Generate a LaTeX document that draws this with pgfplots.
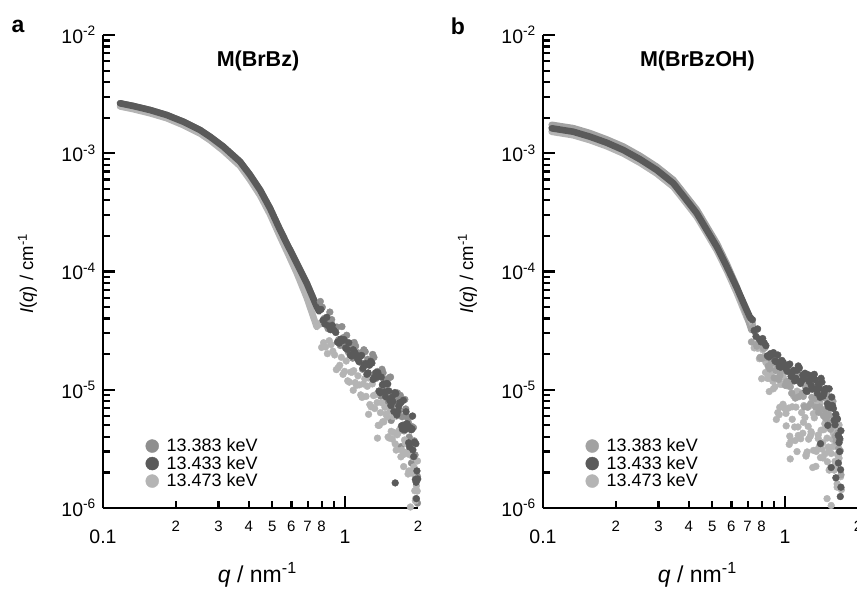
\documentclass[border=0pt]{standalone}
\usepackage{fontspec}
\setmainfont{Liberation Sans}
\usepackage{pgfplots}
\pgfplotsset{compat=1.18}

\definecolor{cdark}{HTML}{5A5A5A}
\definecolor{cmedA}{HTML}{8E8E8E}
\definecolor{cmedB}{HTML}{A2A2A2}
\definecolor{clight}{HTML}{B4B4B4}

\tikzset{
  sline/.style={line width=6.6bp, line cap=round, line join=round, color=#1},
  sdots/.style={mark=*, mark size=3.4bp, color=#1},
  legdot/.style={only marks, mark=*, mark size=6.5bp, color=#1},
}

\begin{document}
\begin{tikzpicture}
\useasboundingbox (0bp,0bp) rectangle (857bp,589bp);

% ---------------- panel a ----------------
\begin{loglogaxis}[
    at={(103bp,81bp)}, anchor=south west,
    scale only axis, width=315bp, height=473bp,
    xmin=0.1, xmax=2, ymin=1e-6, ymax=1e-2,
    axis x line*=bottom, axis y line*=left,
    axis line style={line width=2.6bp, -},
    tick align=inside,
    major tick length=12bp, minor tick length=7bp,
    tick style={line width=2.2bp, color=black},
    xtick={0.1,1}, xticklabels={0.1,1},
    minor xtick={0.2,0.3,0.4,0.5,0.6,0.7,0.8,0.9},
    extra x ticks={0.2,0.3,0.4,0.5,0.6,0.7,0.8,2},
    extra x tick labels={2,3,4,5,6,7,8,2},
    extra x tick style={tick style={draw=none},
      xticklabel style={font=\fontsize{15bp}{17bp}\selectfont, yshift=9bp}},
    xticklabel style={font=\fontsize{19.5bp}{22bp}\selectfont, inner sep=0pt, anchor=north, yshift=-22bp},
    ytick={1e-6,1e-5,1e-4,1e-3,1e-2},
    yticklabels={10\textsuperscript{-6},10\textsuperscript{-5},10\textsuperscript{-4},10\textsuperscript{-3},10\textsuperscript{-2}},
    minor ytick={2e-6,3e-6,4e-6,5e-6,6e-6,7e-6,8e-6,9e-6,
                 2e-5,3e-5,4e-5,5e-5,6e-5,7e-5,8e-5,9e-5,
                 2e-4,3e-4,4e-4,5e-4,6e-4,7e-4,8e-4,9e-4,
                 2e-3,3e-3,4e-3,5e-3,6e-3,7e-3,8e-3,9e-3},
    yticklabel style={font=\fontsize{19.5bp}{22bp}\selectfont, inner sep=0pt, anchor=east, xshift=-7bp},
    xlabel={\textit{q} / nm\textsuperscript{-1}},
    xlabel style={font=\fontsize{23bp}{26bp}\selectfont, at={(axis description cs:0.49,-0.158)}, anchor=base},
    ylabel={\textit{I}(\textit{q}) / cm\textsuperscript{-1}},
    ylabel style={font=\fontsize{18.5bp}{21bp}\selectfont, at={(axis description cs:-0.24,0.495)}, anchor=center},
    legend style={at={(axis description cs:0.135,0.151)}, anchor=north west,
      draw=none, fill=none, inner sep=0pt, row sep=-1bp, column sep=6bp,
      font=\fontsize{18bp}{20bp}\selectfont},
    legend cell align=left,
  ]
  % 13.383 keV
  \addplot[forget plot, no marks, sline=cmedA] coordinates {
    (0.1176,2.645e-3)(0.1334,2.509e-3)(0.1564,2.321e-3)(0.1833,2.106e-3)(0.2147,1.848e-3)
    (0.2517,1.573e-3)(0.2768,1.380e-3)(0.3142,1.136e-3)(0.3683,8.48e-4)(0.4050,6.55e-4)
    (0.4455,4.89e-4)(0.4898,3.42e-4)(0.5387,2.244e-4)(0.5832,1.62e-4)(0.6317,1.173e-4)
    (0.6946,7.95e-5)(0.7638,5.04e-5)(0.79,4.8e-5)};
  \addplot[forget plot, only marks, sdots=cmedA] coordinates {
    (0.79,5.58e-5)(0.82,4.01e-5)(0.85,3.29e-5)(0.88,3.92e-5)(0.91,3.28e-5)(0.94,2.65e-5)
    (0.97,3.42e-5)(1.00,2.52e-5)(1.03,2.09e-5)(1.06,2.46e-5)(1.09,2.51e-5)(1.12,1.91e-5)
    (1.15,1.92e-5)(1.18,1.49e-5)(1.21,2.10e-5)(1.24,1.81e-5)(1.27,1.28e-5)(1.30,1.99e-5)
    (1.33,1.25e-5)(1.36,1.43e-5)(1.39,9.42e-6)(1.42,1.49e-5)(1.45,1.03e-5)(1.48,1.22e-5)
    (1.51,7.80e-6)(1.54,1.28e-5)(1.57,7.42e-6)(1.60,8.57e-6)(1.63,6.01e-6)(1.66,8.36e-6)
    (1.69,8.97e-6)(1.72,5.91e-6)(1.75,4.49e-6)(1.78,6.88e-6)(1.81,5.79e-6)(1.84,3.98e-6)
    (1.87,5.90e-6)(1.90,3.55e-6)(1.93,3.70e-6)(1.96,1.88e-6)(1.99,1.85e-6)
    (0.805,4.99e-5)(0.835,3.74e-5)(0.865,4.54e-5)(0.895,3.23e-5)(0.925,3.39e-5)(0.955,2.37e-5)
    (0.985,2.76e-5)(1.015,2.89e-5)(1.045,2.16e-5)(1.075,1.85e-5)(1.105,2.34e-5)(1.135,2.05e-5)
    (1.165,1.69e-5)(1.195,2.18e-5)(1.225,1.63e-5)(1.255,1.27e-5)(1.285,1.72e-5)(1.315,1.88e-5)
    (1.345,1.25e-5)(1.375,1.31e-5)(1.405,8.83e-6)(1.435,1.39e-5)(1.465,1.18e-5)(1.495,8.32e-6)
    (1.525,1.27e-5)(1.555,7.91e-6)(1.585,9.07e-6)(1.615,6.06e-6)(1.645,9.40e-6)(1.675,6.66e-6)
    (1.705,7.87e-6)(1.735,5.03e-6)(1.765,8.28e-6)(1.795,4.68e-6)(1.825,5.27e-6)(1.855,3.63e-6)
    (1.885,4.89e-6)(1.915,4.79e-6)(1.945,2.81e-6)(1.975,1.74e-6)
    (1.55,5.5e-6)(1.88,2.4e-6)(1.99,1.1e-6)(1.70,3.3e-6)};
  % 13.473 keV
  \addplot[forget plot, no marks, sline=clight] coordinates {
    (0.1176,2.49e-3)(0.1334,2.36e-3)(0.1564,2.18e-3)(0.1833,1.98e-3)(0.2147,1.73e-3)
    (0.2517,1.47e-3)(0.2768,1.29e-3)(0.3142,1.05e-3)(0.3683,7.8e-4)(0.4050,5.95e-4)
    (0.4455,4.4e-4)(0.4898,3.04e-4)(0.5387,1.97e-4)(0.5832,1.39e-4)(0.6317,9.7e-5)
    (0.6946,6.0e-5)(0.7638,3.4e-5)};
  \addplot[forget plot, only marks, sdots=clight] coordinates {
    (0.77,3.62e-5)(0.80,2.28e-5)(0.83,2.30e-5)(0.86,2.60e-5)(0.89,2.12e-5)(0.92,1.48e-5)
    (0.95,1.61e-5)(0.98,1.35e-5)(1.01,1.75e-5)(1.04,1.16e-5)(1.07,1.41e-5)(1.10,1.15e-5)
    (1.13,1.31e-5)(1.16,9.05e-6)(1.19,1.12e-5)(1.22,8.79e-6)(1.25,1.26e-5)(1.28,7.17e-6)
    (1.31,8.93e-6)(1.34,9.10e-6)(1.37,5.00e-6)(1.40,6.40e-6)(1.43,5.36e-6)(1.46,7.12e-6)
    (1.49,5.92e-6)(1.52,3.91e-6)(1.55,4.45e-6)(1.58,5.93e-6)(1.61,3.49e-6)(1.64,4.16e-6)
    (1.67,4.49e-6)(1.70,2.71e-6)(1.73,2.81e-6)(1.76,3.76e-6)(1.79,2.89e-6)(1.82,1.94e-6)
    (1.85,2.82e-6)(1.88,2.06e-6)(1.91,2.67e-6)(1.94,1.40e-6)(1.97,1.54e-6)
    (0.785,3.58e-5)(0.815,2.50e-5)(0.845,2.02e-5)(0.875,2.41e-5)(0.905,1.97e-5)(0.935,1.53e-5)
    (0.965,1.88e-5)(0.995,1.43e-5)(1.025,1.19e-5)(1.055,1.41e-5)(1.085,1.45e-5)(1.115,1.09e-5)
    (1.145,1.10e-5)(1.175,8.62e-6)(1.205,1.24e-5)(1.235,1.07e-5)(1.265,7.50e-6)(1.295,1.12e-5)
    (1.325,6.94e-6)(1.355,7.79e-6)(1.385,5.01e-6)(1.415,7.77e-6)(1.445,5.35e-6)(1.475,6.23e-6)
    (1.505,3.99e-6)(1.535,6.62e-6)(1.565,3.83e-6)(1.595,4.34e-6)(1.625,3.09e-6)(1.655,4.32e-6)
    (1.685,4.66e-6)(1.715,3.09e-6)(1.745,2.24e-6)(1.775,3.52e-6)(1.805,2.98e-6)(1.835,2.06e-6)
    (1.865,3.08e-6)(1.895,1.97e-6)(1.925,2.23e-6)(1.955,1.20e-6)(1.985,1.39e-6)
    (1.08,9.9e-6)(1.36,3.9e-6)(1.86,1.02e-6)(1.95,1.15e-6)(1.99,2.5e-6)(1.25,6.2e-6)};
  % 13.433 keV
  \addplot[forget plot, no marks, sline=cdark] coordinates {
    (0.1176,2.645e-3)(0.1334,2.509e-3)(0.1564,2.321e-3)(0.1833,2.106e-3)(0.2147,1.848e-3)
    (0.2517,1.573e-3)(0.2768,1.380e-3)(0.3142,1.136e-3)(0.3683,8.48e-4)(0.4050,6.55e-4)
    (0.4455,4.89e-4)(0.4898,3.42e-4)(0.5387,2.244e-4)(0.5832,1.62e-4)(0.6317,1.173e-4)
    (0.6946,7.95e-5)(0.7638,5.04e-5)(0.78,4.6e-5)};
  \addplot[forget plot, only marks, sdots=cdark] coordinates {
    (0.78,4.76e-5)(0.81,3.87e-5)(0.84,4.10e-5)(0.87,3.22e-5)(0.90,3.18e-5)(0.93,2.53e-5)
    (0.96,2.68e-5)(0.99,2.66e-5)(1.02,2.20e-5)(1.05,1.96e-5)(1.08,2.18e-5)(1.11,1.97e-5)
    (1.14,1.73e-5)(1.17,1.95e-5)(1.20,1.62e-5)(1.23,1.35e-5)(1.26,1.61e-5)(1.29,1.68e-5)
    (1.32,1.27e-5)(1.35,1.28e-5)(1.38,9.76e-6)(1.41,1.28e-5)(1.44,1.12e-5)(1.47,8.74e-6)
    (1.50,1.12e-5)(1.53,8.10e-6)(1.56,8.65e-6)(1.59,6.56e-6)(1.62,9.27e-6)(1.65,6.57e-6)
    (1.68,7.76e-6)(1.71,4.95e-6)(1.74,8.14e-6)(1.77,4.60e-6)(1.80,5.17e-6)(1.83,3.56e-6)
    (1.86,4.78e-6)(1.89,4.66e-6)(1.92,2.72e-6)(1.95,1.74e-6)(1.98,2.06e-6)
    (0.795,4.78e-5)(0.825,3.59e-5)(0.855,3.47e-5)(0.885,3.51e-5)(0.915,3.05e-5)(0.945,2.48e-5)
    (0.975,2.60e-5)(1.005,2.25e-5)(1.035,2.50e-5)(1.065,1.93e-5)(1.095,2.09e-5)(1.125,1.83e-5)
    (1.155,1.93e-5)(1.185,1.52e-5)(1.215,1.67e-5)(1.245,1.39e-5)(1.275,1.74e-5)(1.305,1.22e-5)
    (1.335,1.39e-5)(1.365,1.40e-5)(1.395,9.43e-6)(1.425,1.10e-5)(1.455,9.59e-6)(1.485,1.13e-5)
    (1.515,9.78e-6)(1.545,7.35e-6)(1.575,7.93e-6)(1.605,9.47e-6)(1.635,6.13e-6)(1.665,7.26e-6)
    (1.695,7.76e-6)(1.725,4.64e-6)(1.755,5.01e-6)(1.785,6.52e-6)(1.815,4.96e-6)(1.845,3.29e-6)
    (1.875,4.58e-6)(1.905,3.10e-6)(1.935,3.61e-6)(1.965,1.65e-6)(1.995,1.76e-6)
    (1.61,1.63e-6)(1.97,1.2e-6)(1.90,6.0e-6)(1.96,3.5e-6)};
  \addlegendimage{legdot=cmedA}
  \addlegendimage{legdot=cdark}
  \addlegendimage{legdot=clight}
  \legend{13.383 keV,13.433 keV,13.473 keV}
  \node[font=\bfseries\fontsize{21.5bp}{24bp}\selectfont] at (axis description cs:0.492,0.945) {M(BrBz)};
\end{loglogaxis}

% ---------------- panel b ----------------
\begin{loglogaxis}[
    at={(543bp,81bp)}, anchor=south west,
    scale only axis, width=315bp, height=473bp,
    xmin=0.1, xmax=2, ymin=1e-6, ymax=1e-2,
    axis x line*=bottom, axis y line*=left,
    axis line style={line width=2.6bp, -},
    tick align=inside,
    major tick length=12bp, minor tick length=7bp,
    tick style={line width=2.2bp, color=black},
    xtick={0.1,1}, xticklabels={0.1,1},
    minor xtick={0.2,0.3,0.4,0.5,0.6,0.7,0.8,0.9},
    extra x ticks={0.2,0.3,0.4,0.5,0.6,0.7,0.8,2},
    extra x tick labels={2,3,4,5,6,7,8,2},
    extra x tick style={tick style={draw=none},
      xticklabel style={font=\fontsize{15bp}{17bp}\selectfont, yshift=9bp}},
    xticklabel style={font=\fontsize{19.5bp}{22bp}\selectfont, inner sep=0pt, anchor=north, yshift=-22bp},
    ytick={1e-6,1e-5,1e-4,1e-3,1e-2},
    yticklabels={10\textsuperscript{-6},10\textsuperscript{-5},10\textsuperscript{-4},10\textsuperscript{-3},10\textsuperscript{-2}},
    minor ytick={2e-6,3e-6,4e-6,5e-6,6e-6,7e-6,8e-6,9e-6,
                 2e-5,3e-5,4e-5,5e-5,6e-5,7e-5,8e-5,9e-5,
                 2e-4,3e-4,4e-4,5e-4,6e-4,7e-4,8e-4,9e-4,
                 2e-3,3e-3,4e-3,5e-3,6e-3,7e-3,8e-3,9e-3},
    yticklabel style={font=\fontsize{19.5bp}{22bp}\selectfont, inner sep=0pt, anchor=east, xshift=-7bp},
    xlabel={\textit{q} / nm\textsuperscript{-1}},
    xlabel style={font=\fontsize{23bp}{26bp}\selectfont, at={(axis description cs:0.49,-0.158)}, anchor=base},
    ylabel={\textit{I}(\textit{q}) / cm\textsuperscript{-1}},
    ylabel style={font=\fontsize{18.5bp}{21bp}\selectfont, at={(axis description cs:-0.24,0.495)}, anchor=center},
    legend style={at={(axis description cs:0.135,0.151)}, anchor=north west,
      draw=none, fill=none, inner sep=0pt, row sep=-1bp, column sep=6bp,
      font=\fontsize{18bp}{20bp}\selectfont},
    legend cell align=left,
  ]
  % 13.473 keV
  \addplot[forget plot, no marks, sline=clight] coordinates {
    (0.1086,1.52e-3)(0.1334,1.42e-3)(0.1564,1.29e-3)(0.1833,1.147e-3)(0.2147,9.95e-4)
    (0.2517,8.3e-4)(0.2950,6.74e-4)(0.3455,5.2e-4)(0.380,4.06e-4)(0.4317,2.9e-4)
    (0.4747,2.1e-4)(0.5222,1.51e-4)(0.5741,1.02e-4)(0.6317,6.6e-5)(0.6946,4.1e-5)(0.72,3.5e-5)};
  \addplot[forget plot, only marks, sdots=clight] coordinates {
    (0.72,3.90e-5)(0.745,2.26e-5)(0.77,2.24e-5)(0.795,2.46e-5)(0.82,1.92e-5)(0.845,1.25e-5)
    (0.87,1.33e-5)(0.895,1.02e-5)(0.92,1.81e-5)(0.945,6.15e-6)(0.97,1.12e-5)(0.995,6.95e-6)
    (1.02,1.08e-5)(1.045,4.05e-6)(1.07,7.18e-6)(1.095,4.84e-6)(1.12,9.74e-6)(1.145,3.96e-6)
    (1.17,6.42e-6)(1.195,7.35e-6)(1.22,2.81e-6)(1.245,4.90e-6)(1.27,4.04e-6)(1.295,7.45e-6)
    (1.32,5.79e-6)(1.345,3.01e-6)(1.37,4.15e-6)(1.395,7.65e-6)(1.42,3.15e-6)(1.445,4.60e-6)
    (1.47,5.65e-6)(1.495,2.46e-6)(1.52,3.02e-6)(1.545,5.54e-6)(1.57,3.81e-6)(1.595,2.09e-6)
    (1.62,4.54e-6)(1.645,2.85e-6)(1.67,5.04e-6)(1.695,1.84e-6)
    (0.733,3.64e-5)(0.758,2.37e-5)(0.783,1.83e-5)(0.808,2.18e-5)(0.833,1.70e-5)(0.858,1.25e-5)
    (0.883,1.54e-5)(0.908,1.06e-5)(0.933,6.41e-6)(0.958,1.11e-5)(0.983,1.28e-5)(1.008,6.31e-6)
    (1.033,7.0e-6)(1.058,3.71e-6)(1.083,8.90e-6)(1.108,7.13e-6)(1.133,4.11e-6)(1.158,9.40e-6)
    (1.183,4.29e-6)(1.208,5.83e-6)(1.233,2.98e-6)(1.258,7.33e-6)(1.283,4.28e-6)(1.308,6.27e-6)
    (1.333,3.07e-6)(1.358,8.0e-6)(1.383,3.30e-6)(1.408,4.55e-6)(1.433,2.65e-6)(1.458,5.16e-6)
    (1.483,6.34e-6)(1.508,3.28e-6)(1.533,2.14e-6)(1.558,5.23e-6)(1.583,4.28e-6)(1.608,2.48e-6)
    (1.633,5.54e-6)(1.658,2.76e-6)(1.683,3.74e-6)(1.708,1.43e-6)
    (0.80,1.24e-5)(0.83,1.40e-5)(0.86,9.66e-6)(0.89,1.18e-5)(0.92,5.61e-6)(0.95,7.10e-6)
    (0.98,7.54e-6)(1.01,4.95e-6)(1.04,3.45e-6)(1.07,5.63e-6)(1.10,3.72e-6)(1.13,4.85e-6)
    (1.16,3.85e-6)(1.19,5.30e-6)(1.22,2.75e-6)(1.25,3.82e-6)(1.28,4.42e-6)(1.31,3.07e-6)
    (1.34,2.25e-6)(1.37,3.87e-6)(1.40,2.67e-6)(1.43,3.57e-6)(1.46,2.87e-6)(1.49,3.90e-6)
    (1.52,2.09e-6)(1.55,2.89e-6)(1.58,3.31e-6)(1.61,2.28e-6)(1.64,1.60e-6)(1.67,2.64e-6)
    (1.12,3.0e-6)(1.49,1.2e-6)(1.55,1.05e-6)(1.05,2.6e-6)(1.30,2.2e-6)(1.64,1.5e-6)};
  % 13.383 keV
  \addplot[forget plot, no marks, sline=cmedB] coordinates {
    (0.1086,1.74e-3)(0.1334,1.63e-3)(0.1564,1.48e-3)(0.1833,1.31e-3)(0.2147,1.14e-3)
    (0.2517,9.5e-4)(0.2950,7.7e-4)(0.3455,5.95e-4)(0.380,4.65e-4)(0.4317,3.33e-4)
    (0.4747,2.4e-4)(0.5222,1.73e-4)(0.5741,1.16e-4)(0.6317,7.4e-5)(0.6946,4.3e-5)(0.726,3.2e-5)};
  \addplot[forget plot, only marks, sdots=cmedB] coordinates {
    (0.726,2.54e-5)(0.751,3.08e-5)(0.776,2.51e-5)(0.801,1.84e-5)(0.826,2.27e-5)(0.851,1.58e-5)
    (0.876,1.67e-5)(0.901,1.26e-5)(0.926,1.66e-5)(0.951,1.32e-5)(0.976,1.46e-5)(1.001,1.09e-5)
    (1.026,1.50e-5)(1.051,1.06e-5)(1.076,1.18e-5)(1.101,8.50e-6)(1.126,1.22e-5)(1.151,1.35e-5)
    (1.176,9.26e-6)(1.201,7.17e-6)(1.226,1.18e-5)(1.251,1.04e-5)(1.276,7.66e-6)(1.301,1.22e-5)
    (1.326,8.44e-6)(1.351,1.03e-5)(1.376,6.43e-6)(1.401,8.57e-6)(1.426,1.0e-5)(1.451,6.77e-6)
    (1.476,5.72e-6)(1.501,8.49e-6)(1.526,7.04e-6)(1.551,5.28e-6)(1.576,8.0e-6)(1.601,5.03e-6)
    (1.626,3.67e-6)(1.651,4.32e-6)(1.676,3.88e-6)(1.701,1.91e-6)
    (0.739,3.38e-5)(0.764,2.34e-5)(0.789,1.88e-5)(0.814,2.24e-5)(0.839,1.88e-5)(0.864,1.50e-5)
    (0.889,1.92e-5)(0.914,1.45e-5)(0.939,1.22e-5)(0.964,1.46e-5)(0.989,1.52e-5)(1.014,1.17e-5)
    (1.039,1.19e-5)(1.064,9.35e-6)(1.089,1.36e-5)(1.114,1.20e-5)(1.139,8.73e-6)(1.164,1.36e-5)
    (1.189,8.79e-6)(1.214,1.05e-5)(1.239,7.11e-6)(1.264,1.18e-5)(1.289,8.63e-6)(1.314,1.06e-5)
    (1.339,7.10e-6)(1.364,1.19e-5)(1.389,7.15e-6)(1.414,8.47e-6)(1.439,6.03e-6)(1.464,8.54e-6)
    (1.489,9.32e-6)(1.514,6.17e-6)(1.539,4.63e-6)(1.564,7.28e-6)(1.589,5.95e-6)(1.614,4.04e-6)
    (1.639,5.62e-6)(1.664,3.19e-6)(1.689,3.06e-6)};
  % 13.433 keV
  \addplot[forget plot, no marks, sline=cdark] coordinates {
    (0.1086,1.626e-3)(0.1334,1.521e-3)(0.1564,1.380e-3)(0.1833,1.228e-3)(0.2147,1.065e-3)
    (0.2517,8.89e-4)(0.2950,7.22e-4)(0.3455,5.57e-4)(0.380,4.35e-4)(0.4317,3.11e-4)
    (0.4747,2.244e-4)(0.5222,1.62e-4)(0.5741,1.10e-4)(0.6317,7.3e-5)(0.6946,4.7e-5)(0.72,4.0e-5)};
  \addplot[forget plot, only marks, sdots=cdark] coordinates {
    (0.72,4.04e-5)(0.745,3.17e-5)(0.77,3.27e-5)(0.795,2.54e-5)(0.82,2.49e-5)(0.845,1.94e-5)
    (0.87,2.02e-5)(0.895,2.06e-5)(0.92,1.72e-5)(0.945,1.57e-5)(0.97,1.77e-5)(0.995,1.62e-5)
    (1.02,1.43e-5)(1.045,1.65e-5)(1.07,1.39e-5)(1.095,1.19e-5)(1.12,1.46e-5)(1.145,1.53e-5)
    (1.17,1.19e-5)(1.195,1.24e-5)(1.22,9.84e-6)(1.245,1.34e-5)(1.27,1.23e-5)(1.295,1.01e-5)
    (1.32,1.35e-5)(1.345,1.01e-5)(1.37,1.11e-5)(1.395,8.63e-6)(1.42,1.16e-5)(1.445,9.21e-6)
    (1.47,1.02e-5)(1.495,7.61e-6)(1.52,1.02e-5)(1.545,7.04e-6)(1.57,7.35e-6)(1.595,5.51e-6)
    (1.62,6.20e-6)(1.645,5.66e-6)(1.67,3.57e-6)(1.695,2.11e-6)
    (0.733,3.91e-5)(0.758,2.82e-5)(0.783,2.68e-5)(0.808,2.71e-5)(0.833,2.36e-5)(0.858,1.89e-5)
    (0.883,1.97e-5)(0.908,1.75e-5)(0.933,1.97e-5)(0.958,1.55e-5)(0.983,1.70e-5)(1.008,1.51e-5)
    (1.033,1.62e-5)(1.058,1.30e-5)(1.083,1.46e-5)(1.108,1.25e-5)(1.133,1.59e-5)(1.158,1.13e-5)
    (1.183,1.33e-5)(1.208,1.38e-5)(1.233,9.67e-6)(1.258,1.17e-5)(1.283,1.08e-5)(1.308,1.33e-5)
    (1.333,1.21e-5)(1.358,9.34e-6)(1.383,1.03e-5)(1.408,1.25e-5)(1.433,8.84e-6)(1.458,9.79e-6)
    (1.483,1.02e-5)(1.508,7.20e-6)(1.533,7.36e-6)(1.558,8.67e-6)(1.583,6.94e-6)(1.608,5.06e-6)
    (1.633,5.77e-6)(1.658,4.12e-6)(1.683,3.86e-6)
    (1.70,1.5e-6)(1.69,1.25e-6)(1.68,3.0e-6)(1.70,4.5e-6)(1.40,3.5e-6)(1.55,2.2e-6)
    (1.62,1.8e-6)(1.50,5.0e-6)(1.66,2.4e-6)};
  \addlegendimage{legdot=cmedB}
  \addlegendimage{legdot=cdark}
  \addlegendimage{legdot=clight}
  \legend{13.383 keV,13.433 keV,13.473 keV}
  \node[font=\bfseries\fontsize{21.5bp}{24bp}\selectfont] at (axis description cs:0.490,0.945) {M(BrBzOH)};
\end{loglogaxis}

\node[font=\bfseries\fontsize{23bp}{26bp}\selectfont] at (18bp,563bp) {a};
\node[font=\bfseries\fontsize{23bp}{26bp}\selectfont] at (458bp,563bp) {b};
\end{tikzpicture}
\end{document}
